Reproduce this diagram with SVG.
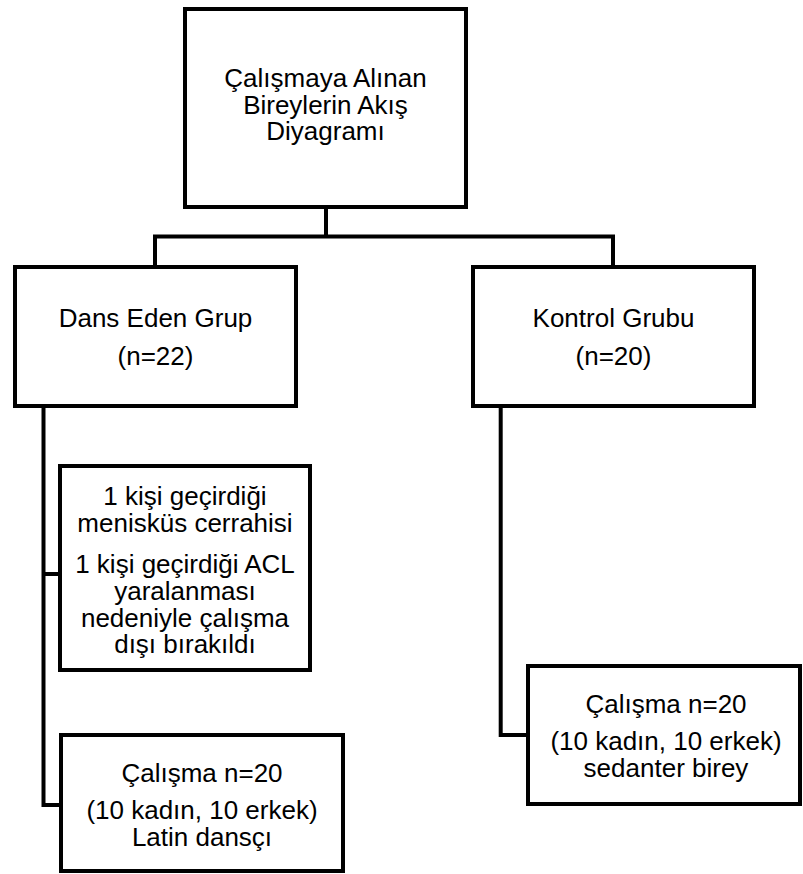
<svg xmlns="http://www.w3.org/2000/svg" width="803" height="874" viewBox="0 0 803 874">
<style>
.box{fill:#fff;stroke:#000;stroke-width:4;stroke-linejoin:miter}
.t{font-family:"Liberation Sans",Arial,sans-serif;font-size:26px;fill:#000;text-anchor:middle}
.c{fill:none;stroke:#000;stroke-width:4;stroke-linejoin:miter}
</style>
<rect width="803" height="874" fill="#fff"/>
<g id="connectors">
<path class="c" d="M326 209V236.5M155 267V236.5H613V267"/>
<path class="c" d="M43.5 408V805H61M43.5 574H60"/>
<path class="c" d="M500.7 408V735H528"/>
</g>
<g id="top">
<rect class="box" x="185" y="9" width="281" height="198"/>
<text class="t" x="325.5" y="87">Çalışmaya Alınan</text>
<text class="t" x="325.5" y="113.5">Bireylerin Akış</text>
<text class="t" x="325.5" y="140">Diyagramı</text>
</g>
<g id="dans">
<rect class="box" x="15" y="267" width="281" height="139"/>
<text class="t" x="155.5" y="327">Dans Eden Grup</text>
<text class="t" x="155.5" y="365">(n=22)</text>
</g>
<g id="kontrol">
<rect class="box" x="473" y="267" width="281" height="139"/>
<text class="t" x="613.5" y="327">Kontrol Grubu</text>
<text class="t" x="613.5" y="365">(n=20)</text>
</g>
<g id="exclusion">
<rect class="box" x="60" y="466" width="250" height="204"/>
<text class="t" x="185" y="505">1 kişi geçirdiği</text>
<text class="t" x="185" y="532">menisküs cerrahisi</text>
<text class="t" x="185" y="573">1 kişi geçirdiği ACL</text>
<text class="t" x="185" y="600">yaralanması</text>
<text class="t" x="185" y="627">nedeniyle çalışma</text>
<text class="t" x="185" y="653">dışı bırakıldı</text>
</g>
<g id="dans-final">
<rect class="box" x="61" y="735" width="282" height="136"/>
<text class="t" x="202" y="782">Çalışma n=20</text>
<text class="t" x="202" y="819">(10 kadın, 10 erkek)</text>
<text class="t" x="202" y="846">Latin dansçı</text>
</g>
<g id="kontrol-final">
<rect class="box" x="528" y="666" width="272" height="138"/>
<text class="t" x="666" y="713">Çalışma n=20</text>
<text class="t" x="666" y="750">(10 kadın, 10 erkek)</text>
<text class="t" x="666" y="777">sedanter birey</text>
</g>
</svg>
